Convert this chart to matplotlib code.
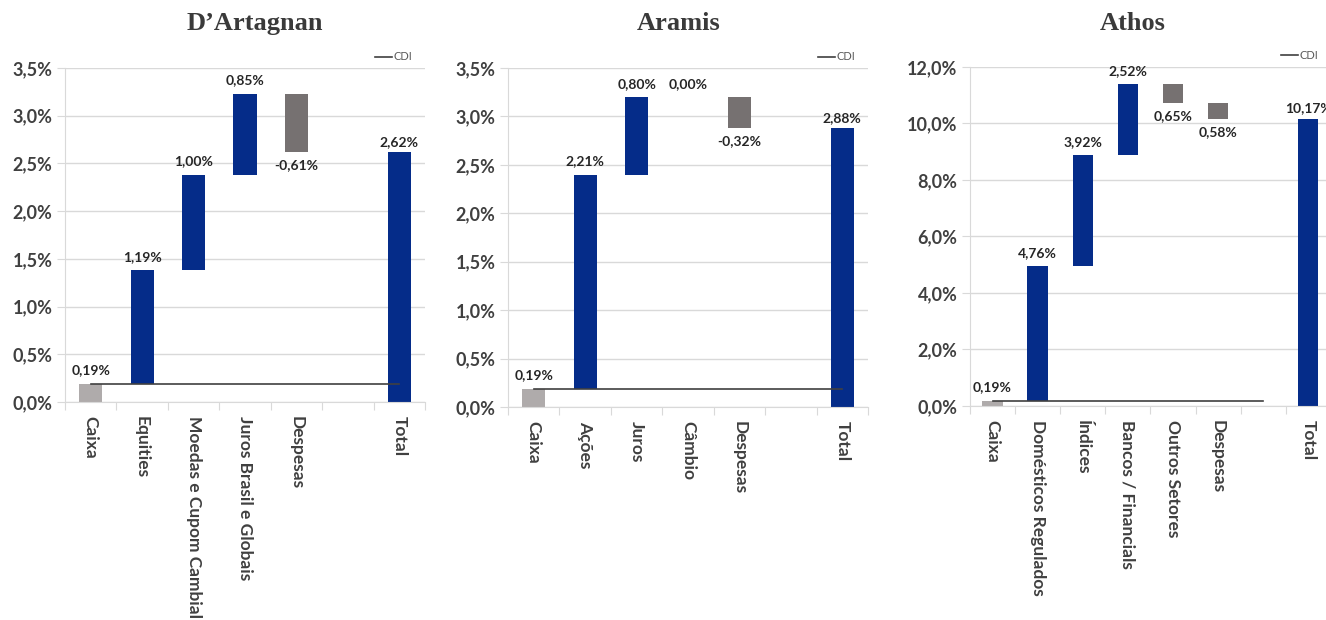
import numpy as np
import matplotlib
matplotlib.use('Agg')
import matplotlib.pyplot as plt
from matplotlib.lines import Line2D

plt.rcParams['font.family'] = ['Lato', 'DejaVu Sans']

BLUE = '#052C89'
GREY = '#767171'
LIGHT = '#AFABAB'
TXT = '#404040'
GRID = '#D9D9D9'

# D'Artagnan
dart_cats = ['Caixa', 'Equities', 'Moedas e Cupom Cambial', 'Juros Brasil e Globais', 'Despesas', '', 'Total']
dart_vals = [0.19, 1.19, 1.00, 0.85, -0.61]
dart_total = 2.62
dart_labels = ['0,19%', '1,19%', '1,00%', '0,85%', '-0,61%', '2,62%']
dart_cdi = [0.19] * 7

# Aramis
aram_cats = ['Caixa', 'Ações', 'Juros', 'Câmbio', 'Despesas', '', 'Total']
aram_vals = [0.19, 2.21, 0.80, 0.00, -0.32]
aram_total = 2.88
aram_labels = ['0,19%', '2,21%', '0,80%', '0,00%', '-0,32%', '2,88%']
aram_cdi = [0.19] * 7

# Athos
athos_cats = ['Caixa', 'Domésticos Regulados', 'Índices', 'Bancos / Financials', 'Outros Setores', 'Despesas', '', 'Total']
athos_vals = [0.19, 4.76, 3.92, 2.52, -0.65, -0.58]
athos_total = 10.17
athos_labels = ['0,19%', '4,76%', '3,92%', '2,52%', '0,65%', '0,58%', '10,17%']
athos_cdi = [0.19] * 7


def waterfall(ax, cats, vals, total, labels, cdi, ymax, ystep, leg_x):
    n = len(cats)
    x = np.arange(n)
    ends = np.cumsum(vals)
    starts = ends - np.array(vals)
    off = ymax * 0.022
    for i, v in enumerate(vals):
        if i == 0:
            c = LIGHT
        elif v < 0:
            c = GREY
        else:
            c = BLUE
        h = v if v != 0 else ymax * 0.001
        ax.bar(x[i], h, bottom=starts[i], width=0.45, color=c, zorder=2)
        if v < 0:
            ax.text(x[i], ends[i] - off, labels[i], ha='center', va='top',
                    fontsize=10, fontweight='bold', color='#262626')
        else:
            ax.text(x[i], ends[i] + off, labels[i], ha='center', va='bottom',
                    fontsize=10, fontweight='bold', color='#262626')
    ax.bar(x[-1], total, width=0.45, color=BLUE, zorder=2)
    ax.text(x[-1], total + off * 0.6, labels[-1], ha='center', va='bottom',
            fontsize=10, fontweight='bold', color='#262626')
    ax.plot(x[:len(cdi)], cdi, color='#404040', lw=1.2, zorder=3)

    ax.set_xlim(-0.5, n - 0.5)
    ax.set_ylim(0, ymax)
    yt = np.arange(0, ymax + ystep / 2, ystep)
    ax.set_yticks(yt)
    ax.set_yticklabels(['{:.1f}%'.format(t).replace('.', ',') for t in yt],
                       fontsize=13, fontweight='bold', color=TXT)
    ax.set_xticks(np.arange(n + 1) - 0.5)
    ax.set_xticklabels([])
    ax.set_xticks(x, minor=True)
    ax.set_xticklabels(cats, minor=True, rotation=270, fontsize=12.5,
                       fontweight='bold', color=TXT, va='top', ha='center')
    ax.tick_params(axis='x', which='minor', length=0, pad=10)
    ax.tick_params(axis='x', which='major', length=6, color=GRID)
    ax.tick_params(axis='y', length=6, color=GRID, pad=3)
    ax.grid(axis='y', color=GRID, lw=1, zorder=0)
    for s in ['top', 'right']:
        ax.spines[s].set_visible(False)
    ax.spines['left'].set_color(GRID)
    ax.spines['bottom'].set_color(GRID)
    h = Line2D([], [], color='#404040', lw=1.2)
    ax.legend([h], ['CDI'], loc='lower right', bbox_to_anchor=(leg_x, 1.01),
              frameon=False, fontsize=8, handlelength=1.5, handletextpad=0.1,
              borderaxespad=0.1, borderpad=0.1, labelcolor='#595959')


fig = plt.figure(figsize=(13.26, 6.2), dpi=100)
ax1 = fig.add_axes([0.0490, 0.3516, 0.2715, 0.5387])
ax2 = fig.add_axes([0.3831, 0.3435, 0.2715, 0.5468])
ax3 = fig.add_axes([0.7315, 0.3452, 0.2722, 0.5468])

waterfall(ax1, dart_cats, dart_vals, dart_total, dart_labels, dart_cdi, 3.5, 0.5, 0.97)
waterfall(ax2, aram_cats, aram_vals, aram_total, aram_labels, aram_cdi, 3.5, 0.5, 0.97)
waterfall(ax3, athos_cats, athos_vals, athos_total, athos_labels, athos_cdi, 12.0, 2.0, 0.97)

for xx, t in [(0.192, 'D\u2019Artagnan'), (0.512, 'Aramis'), (0.854, 'Athos')]:
    fig.text(xx, 0.962, t, ha='center', va='center', fontsize=19,
             fontweight='bold', family='Liberation Serif', color='#3A3A3A')

fig.savefig('out.png', dpi=100)
